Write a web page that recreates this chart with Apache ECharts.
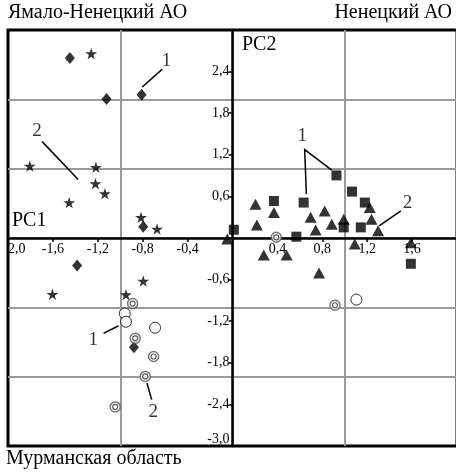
<!DOCTYPE html>
<html>
<head>
<meta charset="utf-8">
<script src="https://cdn.jsdelivr.net/npm/echarts@6/dist/echarts.min.js"></script>
<style>
  html, body { margin: 0; padding: 0; background: #fff; }
  #show_picture { width: 456px; height: 473px; }
</style>
</head>
<body>
<div id="show_picture"></div>
<script>
// Ямало-Ненецкий АО: 1 - ромбы, 2 - звёзды
const yamal1 = [[-1.449, 2.597], [-1.122, 2.006], [-0.81, 2.067], [-0.795, 0.162], [-1.384, -0.397], [-0.878, -1.576]];
const yamal2 = [[-1.259, 2.66], [-1.806, 1.036], [-1.217, 1.021], [-1.221, 0.784], [-1.137, 0.64], [-1.455, 0.511],
    [-0.815, 0.297], [-0.672, 0.129], [-1.604, -0.812], [-0.795, -0.62], [-0.949, -0.817]];
// Ненецкий АО: 1 - квадраты, 2 - треугольники
const nenets1 = [[0.926, 0.903], [1.065, 0.669], [1.179, 0.511], [1.143, 0.153], [0.991, 0.153], [0.634, 0.511],
    [0.369, 0.534], [0.569, 0.019], [0.012, 0.119], [1.589, -0.372]];
const nenets2 = [[0.205, 0.487], [0.369, 0.368], [0.217, 0.186], [-0.047, -0.014], [0.696, 0.301], [0.741, 0.115],
    [0.821, 0.391], [0.884, 0.2], [0.991, 0.272], [1.223, 0.44], [1.238, 0.272], [1.297, 0.105], [1.089, -0.086],
    [0.279, -0.244], [0.482, -0.244], [0.771, -0.506], [1.589, -0.07]];
// Мурманская область: 1 - пустые кружки, 2 - двойные кружки
const murmansk1 = [[-0.96, -1.089], [-0.949, -1.208], [-0.69, -1.294], [1.104, -0.888]];
const murmansk2 = [[-0.89, -0.946], [-0.866, -1.447], [-0.703, -1.709], [-0.777, -1.996], [-1.045, -2.436],
    [0.913, -0.97], [0.39, 0.01]];

// номера групп и выноски
const noteText = ['1', '2', '1', '2', '1', '2'];
const notePos = [[-0.589, 2.55], [-1.741, 1.547], [-1.241, -1.471], [-0.705, -2.511], [0.622, 1.466], [1.56, 0.511]];
const noteLines = [
    [[-0.625, 2.436], [-0.804, 2.178]],
    [[-1.696, 1.39], [-1.375, 0.845]],
    [[-1.149, -1.375], [-1.015, -1.265]],
    [[-0.72, -2.331], [-0.762, -2.092]],
    [[0.658, 0.63], [0.643, 1.275], [0.884, 0.979]],
    [[1.5, 0.391], [1.306, 0.176]]
];

const serif = '"Liberation Serif", "DejaVu Serif", serif';
const star = 'path://M50,0 L61,35 L98,35 L68,57 L79,91 L50,70 L21,91 L32,57 L2,35 L39,35 Z';

const gridLeft = 8, gridTop = 30, gridW = 449, gridH = 416;

function fmt(v) {
    return v.toFixed(1).replace('.', ',');
}

let myChart = echarts.init(document.getElementById('show_picture'));

const gridSplit = { show: true, showMinLine: false, showMaxLine: false, lineStyle: { color: '#9a9a9a', width: 2 } };

let option = {
    backgroundColor: '#fff',
    animation: false,
    textStyle: { fontFamily: serif, color: '#000' },
    grid: {
        left: gridLeft, top: gridTop, width: gridW, height: gridH,
        containLabel: false, outerBoundsMode: 'none',
        show: true, borderColor: '#000', borderWidth: 3, backgroundColor: 'transparent'
    },
    xAxis: [
        {
            type: 'value', min: -2, max: 2, interval: 0.4, position: 'bottom', offset: -gridH / 2,
            axisLine: { onZero: false, lineStyle: { color: '#000', width: 2.5 } },
            axisTick: { length: 4, lineStyle: { color: '#000', width: 1.5 } },
            splitLine: { show: false },
            axisLabel: {
                margin: 4, color: '#000', fontFamily: serif, fontSize: 14,
                showMinLabel: true, alignMinLabel: 'left',
                formatter: v => (Math.abs(v) < 1e-6 || v > 1.9) ? '' : (v < -1.9 ? '2,0' : fmt(v))
            }
        },
        {
            type: 'value', min: -2, max: 2, interval: 1,
            axisLine: { show: false }, axisTick: { show: false }, axisLabel: { show: false },
            splitLine: gridSplit
        }
    ],
    yAxis: [
        {
            type: 'value', min: -3, max: 3, interval: 0.6, position: 'left', offset: -gridW / 2,
            axisLine: { onZero: false, lineStyle: { color: '#000', width: 2.5 } },
            axisTick: { length: 4, lineStyle: { color: '#000', width: 1.5 } },
            splitLine: { show: false },
            axisLabel: {
                margin: 3, color: '#000', fontFamily: serif, fontSize: 14,
                verticalAlignMinLabel: 'bottom',
                formatter: v => (Math.abs(v) < 1e-6 || v > 2.9) ? '' : fmt(v)
            }
        },
        {
            type: 'value', min: -3, max: 3, interval: 1,
            axisLine: { show: false }, axisTick: { show: false }, axisLabel: { show: false },
            splitLine: gridSplit
        }
    ],
    graphic: [
        { type: 'text', left: 8, top: 3, style: { text: 'Ямало-Ненецкий АО', font: '20px ' + serif, fill: '#000' } },
        { type: 'text', right: 4, top: 3, style: { text: 'Ненецкий АО', font: '20px ' + serif, fill: '#000' } },
        { type: 'text', left: 6, top: 449, style: { text: 'Мурманская область', font: '20px ' + serif, fill: '#000' } },
        { type: 'text', left: 12, top: 211, style: { text: 'PC1', font: '20px ' + serif, fill: '#000' } },
        { type: 'text', left: 242, top: 35, style: { text: 'PC2', font: '20px ' + serif, fill: '#000' } }
    ],
    series: [
        {
            type: 'lines', coordinateSystem: 'cartesian2d', polyline: true, silent: true,
            lineStyle: { color: '#000', width: 1.5, opacity: 1 },
            data: noteLines.map(c => ({ coords: c })), z: 3
        },
        {
            type: 'scatter', symbol: 'circle', symbolSize: 1, silent: true,
            itemStyle: { color: 'rgba(0,0,0,0)' },
            data: notePos.map((p, i) => ({ value: p, name: noteText[i] })),
            label: { show: true, position: 'inside', formatter: '{b}', color: '#000', fontFamily: serif, fontSize: 19 }
        },
        { type: 'scatter', data: yamal1, symbol: 'diamond', symbolSize: [10, 12], itemStyle: { color: '#000' }, z: 4 },
        { type: 'scatter', data: yamal2, symbol: star, symbolSize: 12, symbolKeepAspect: true, itemStyle: { color: '#000' }, z: 4 },
        { type: 'scatter', data: nenets1, symbol: 'rect', symbolSize: 10, itemStyle: { color: '#000' }, z: 4 },
        { type: 'scatter', data: nenets2, symbol: 'triangle', symbolSize: [12, 11], itemStyle: { color: '#000' }, z: 4 },
        { type: 'scatter', data: murmansk1, symbol: 'circle', symbolSize: 11,
          itemStyle: { color: '#fff', borderColor: '#000', borderWidth: 1 }, z: 4 },
        { type: 'scatter', data: murmansk2, symbol: 'circle', symbolSize: 10,
          itemStyle: { color: '#fff', borderColor: '#555', borderWidth: 1.5 }, z: 4 },
        { type: 'scatter', data: murmansk2, symbol: 'circle', symbolSize: 5,
          itemStyle: { color: '#fff', borderColor: '#333', borderWidth: 1.2 }, z: 5 }
    ]
};

option && myChart.setOption(option);
</script>
</body>
</html>
